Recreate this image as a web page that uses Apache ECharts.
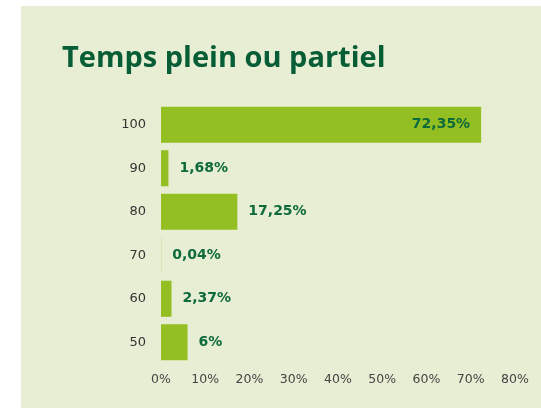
<!DOCTYPE html>
<html><head><meta charset="utf-8">
<script src="https://cdn.jsdelivr.net/npm/echarts@6/dist/echarts.min.js"></script>
<style>html,body{margin:0;padding:0;background:#fff;}#c{width:541px;height:408px;}</style>
</head><body><div id="c"></div>
<script>
var categories = ['100', '90', '80', '70', '60', '50'];
var values = [72.35, 1.68, 17.25, 0.04, 2.37, 6];
var xTicks = [0, 10, 20, 30, 40, 50, 60, 70, 80];

var chart = echarts.init(document.getElementById('c'));
var data = values.map(function (v) {
  var item = { value: v };
  if (v > 50) item.label = { position: 'insideRight', distance: 11 };
  return item;
});
chart.setOption({
  backgroundColor: '#ffffff',
  animation: false,
  graphic: [{
    type: 'rect', z: -10, silent: true,
    shape: { x: 21, y: 6, width: 520, height: 402 },
    style: { fill: '#e8eed3' }
  }],
  title: {
    text: 'Temps plein ou partiel',
    left: 57, top: 39,
    textStyle: { fontFamily: 'Open Sans', fontWeight: 'bold', fontSize: 29, color: '#075d36' }
  },
  grid: { left: 161, right: 26, top: 103, bottom: 44, containLabel: false },
  xAxis: {
    type: 'value', min: 0, max: 80, interval: 10,
    axisLine: { show: false }, axisTick: { show: false }, splitLine: { show: false },
    axisLabel: {
      formatter: function (v) { return xTicks.indexOf(v) >= 0 ? v + '%' : ''; },
      color: '#444', fontFamily: 'DejaVu Sans', fontSize: 12.5, margin: 9
    }
  },
  yAxis: {
    type: 'category', data: categories, inverse: true,
    axisLine: { show: false }, axisTick: { show: false },
    axisLabel: { color: '#333', fontFamily: 'DejaVu Sans', fontSize: 13, margin: 15 }
  },
  series: [{
    type: 'bar', data: data, barCategoryGap: '17%',
    itemStyle: { color: '#93bf22' },
    label: {
      show: true, position: 'right', distance: 11,
      color: '#0d6a3b', fontFamily: 'DejaVu Sans', fontWeight: 'bold', fontSize: 14,
      formatter: function (p) { return String(p.value).replace('.', ',') + '%'; }
    }
  }]
});
</script></body></html>
